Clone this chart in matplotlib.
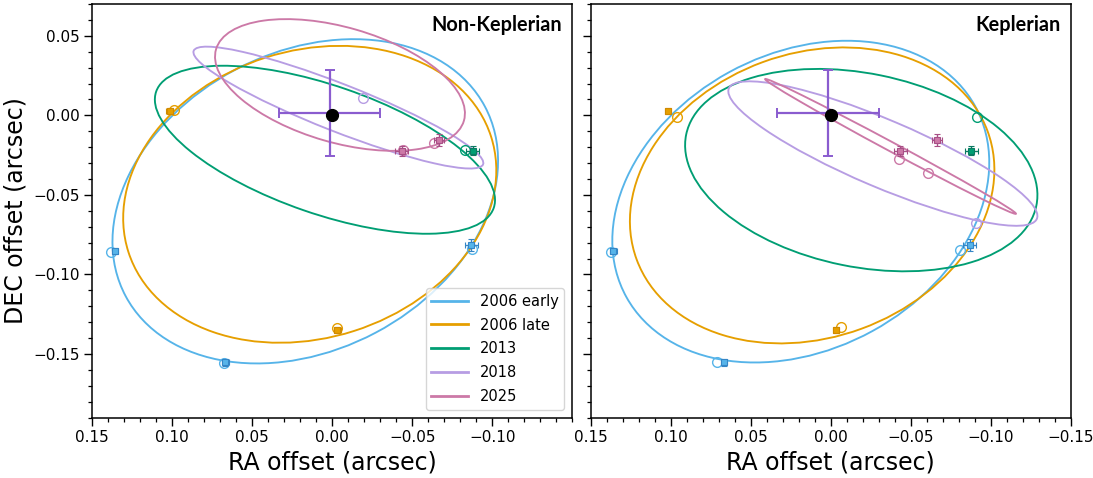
import numpy as np
import matplotlib
matplotlib.use("Agg")
import matplotlib.pyplot as plt
from matplotlib.patches import Ellipse
from matplotlib.lines import Line2D
from matplotlib.ticker import MultipleLocator

# ---------------- data ----------------
epochs = ["2006 early", "2006 late", "2013", "2018", "2025"]
line_colors = ["#56B4E9", "#E69F00", "#009E73", "#B79DE3", "#CC79A7"]
dark_colors = ["#3586C6", "#D08A00", "#0B7A62", "#8E6CC4", "#A84F86"]

panels = ["Non-Keplerian", "Keplerian"]

# orbit ellipses per panel: centre (x, y), half-extent in x and y, correlation
ell_cx = {"Non-Keplerian": [0.0169, 0.0141, 0.0046, -0.0038, -0.0048],
          "Keplerian":     [0.0187, 0.0116, -0.0191, -0.0326, -0.0374]}
ell_cy = {"Non-Keplerian": [-0.0540, -0.0496, -0.0216, 0.0049, 0.0191],
          "Keplerian":     [-0.0542, -0.0503, -0.0344, -0.0240, -0.0195]}
ell_hx = {"Non-Keplerian": [0.1205, 0.1166, 0.1063, 0.0906, 0.0781],
          "Keplerian":     [0.1178, 0.1139, 0.1101, 0.0966, 0.0784]}
ell_hy = {"Non-Keplerian": [0.1019, 0.0933, 0.0528, 0.0383, 0.0414],
          "Keplerian":     [0.1011, 0.0930, 0.0636, 0.0454, 0.0424]}
ell_rho = {"Non-Keplerian": [-0.25, -0.161, 0.598, 0.908, 0.43],
           "Keplerian":     [-0.2435, -0.174, 0.246, 0.863, 0.997]}

# observed positions (epoch index, RA, DEC, RA err, DEC err)
obs_epoch = [1, 1, 0, 0, 0, 2, 4, 4]
obs_ra = [0.1017, -0.0032, 0.1358, 0.0668, -0.0868, -0.0878, -0.0434, -0.0666]
obs_dec = [0.0029, -0.1349, -0.0853, -0.1552, -0.0814, -0.0221, -0.0223, -0.0154]
obs_ra_err = [0.002, 0.002, 0.002, 0.002, 0.004, 0.004, 0.004, 0.003]
obs_dec_err = [0.002, 0.002, 0.002, 0.002, 0.004, 0.003, 0.003, 0.004]

# model-predicted positions (open circles)
pred_epoch = [1, 1, 0, 0, 0, 2, 3, 4, 4]
pred_ra = {"Non-Keplerian": [0.0988, -0.0031, 0.1383, 0.0675, -0.0871, -0.0829, -0.0194, -0.0444, -0.0636],
           "Keplerian":     [0.0959, -0.0063, 0.1373, 0.0709, -0.0808, -0.0913, -0.0908, -0.0429, -0.0610]}
pred_dec = {"Non-Keplerian": [0.0031, -0.1338, -0.0858, -0.1558, -0.0839, -0.0219, 0.0108, -0.0219, -0.0173],
            "Keplerian":     [-0.0010, -0.1327, -0.0861, -0.1548, -0.0844, -0.0011, -0.0677, -0.0271, -0.0364]}

# central star and reference cross
star_ra, star_dec = 0.0, 0.0
cross_ra, cross_dec = 0.0017, 0.0015
cross_ra_err, cross_dec_err = 0.0316, 0.0271
cross_color = "#8A5CCF"

xlim = (0.15, -0.15)
ylim = (-0.19, 0.07)
left_xticks = [0.15, 0.10, 0.05, 0.0, -0.05, -0.10]


def fmt(v, p):
    if abs(v) < 1e-9:
        return "0.00"
    return ("%.2f" % v).replace("-", "\u2212")


# ---------------- figure ----------------
W, H = 1093, 478
fig = plt.figure(figsize=(W / 100, H / 100), dpi=100)
ax_left = fig.add_axes([92.3 / W, 60.3 / H, 480 / W, 413.7 / H])
ax_right = fig.add_axes([590.7 / W, 60.3 / H, 480 / W, 413.7 / H])
axes = [ax_left, ax_right]

for ax, name in zip(axes, panels):
    for i in range(len(epochs)):
        hx, hy, r = ell_hx[name][i], ell_hy[name][i], ell_rho[name][i]
        cov = np.array([[hx * hx, r * hx * hy], [r * hx * hy, hy * hy]])
        vals, vecs = np.linalg.eigh(cov)
        a = np.sqrt(max(vals[1], 0))
        b = np.sqrt(max(vals[0], 0))
        ang = np.degrees(np.arctan2(vecs[1, 1], vecs[0, 1]))
        e = Ellipse((ell_cx[name][i], ell_cy[name][i]), 2 * a, 2 * b, angle=ang,
                    fill=False, edgecolor=line_colors[i], lw=1.35, zorder=2)
        ax.add_patch(e)

    # predicted positions
    for k in range(len(pred_epoch)):
        c = line_colors[pred_epoch[k]]
        ax.plot(pred_ra[name][k], pred_dec[name][k], 'o', ms=7, mfc='none',
                mec=c, mew=1.0, zorder=3)

    # observed positions
    for k in range(len(obs_epoch)):
        c = dark_colors[obs_epoch[k]]
        ax.errorbar(obs_ra[k], obs_dec[k], xerr=obs_ra_err[k], yerr=obs_dec_err[k],
                    fmt='s', ms=4, mfc=line_colors[obs_epoch[k]], mec=c, mew=0.8,
                    ecolor=c, elinewidth=1.0, capsize=2, capthick=1.0, zorder=4)

    # reference cross and star
    ax.errorbar(cross_ra, cross_dec, xerr=cross_ra_err, yerr=cross_dec_err,
                fmt='none', ecolor=cross_color, elinewidth=1.6, capsize=3.5,
                capthick=1.4, zorder=5)
    ax.plot(star_ra, star_dec, 'o', color='black', ms=8.5, zorder=6)

    ax.set_xlim(*xlim)
    ax.set_ylim(*ylim)
    ax.xaxis.set_major_locator(MultipleLocator(0.05))
    ax.xaxis.set_minor_locator(MultipleLocator(0.01))
    ax.yaxis.set_major_locator(MultipleLocator(0.05))
    ax.yaxis.set_minor_locator(MultipleLocator(0.01))
    ax.xaxis.set_major_formatter(plt.FuncFormatter(fmt))
    ax.yaxis.set_major_formatter(plt.FuncFormatter(fmt))
    ax.tick_params(which='major', length=5.5, width=1.0, labelsize=11)
    ax.tick_params(which='minor', length=3.2, width=0.9)
    for s in ax.spines.values():
        s.set_linewidth(1.1)
    ax.set_xlabel("RA offset (arcsec)", fontsize=17, labelpad=4)
    ax.text(0.979, 0.974, name, transform=ax.transAxes, ha='right', va='top',
            fontsize=14.3, fontweight='bold', family=['Lato', 'DejaVu Sans'])

ax_left.set_ylabel("DEC offset (arcsec)", fontsize=17, labelpad=4)
ax_right.tick_params(labelleft=False)

# the left panel omits its last x label
ax_left.set_xticks(left_xticks)

handles = [Line2D([0], [0], color=line_colors[i], lw=2.0) for i in range(len(epochs))]
leg = ax_left.legend(handles, epochs, loc='lower right', fontsize=10.5,
                     handlelength=2.5, frameon=True, fancybox=True,
                     borderaxespad=0.55, labelspacing=0.6)
leg.get_frame().set_edgecolor('#cccccc')
leg.get_frame().set_linewidth(1.0)

fig.savefig("out.png", dpi=100)
